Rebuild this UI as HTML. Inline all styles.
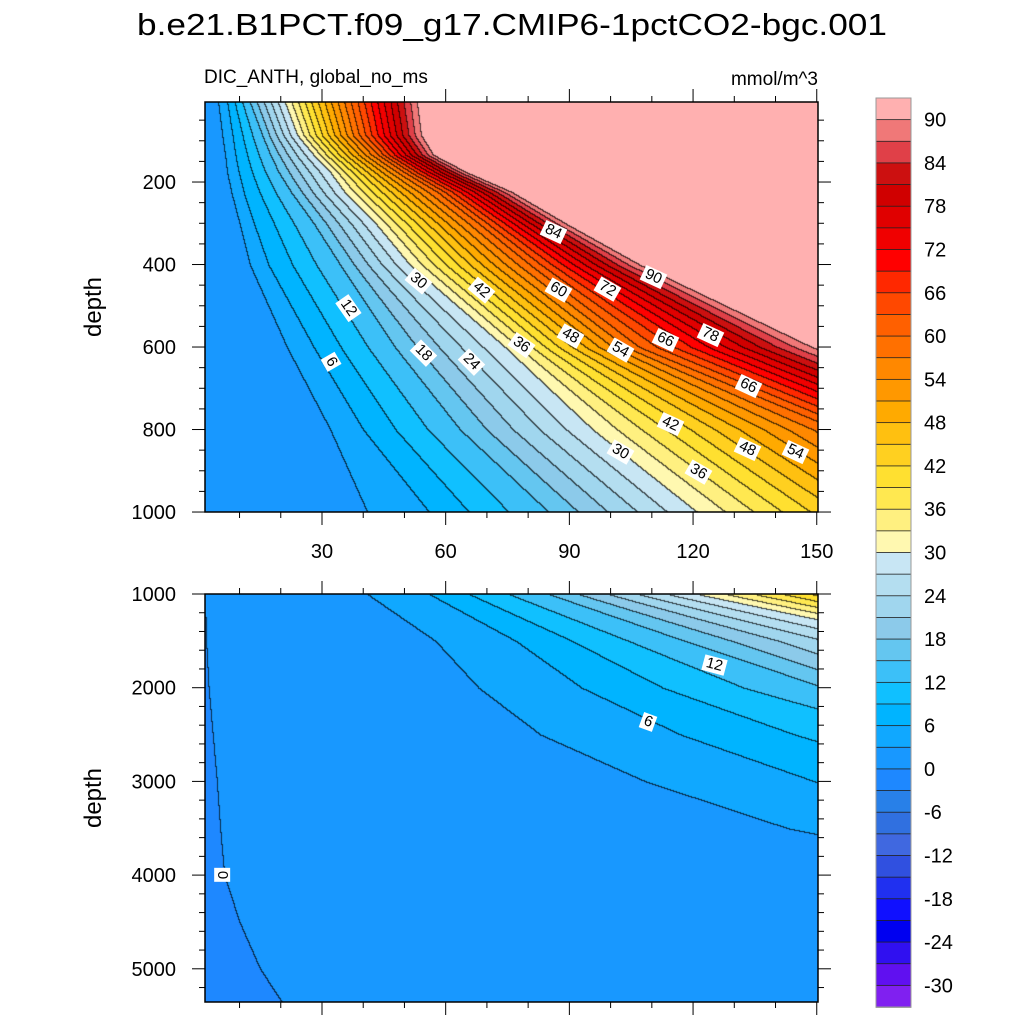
<!DOCTYPE html>
<html><head><meta charset="utf-8">
<style>
html,body{margin:0;padding:0;background:#fff;}
#root{position:relative;width:1024px;height:1024px;overflow:hidden;background:#fff;font-family:"Liberation Sans",sans-serif;}
canvas{position:absolute;}
svg{position:absolute;left:0;top:0;}
.clabel{position:absolute;background:#fff;font-size:15px;line-height:16px;padding:0 3px;color:#000;transform-origin:center center;white-space:nowrap;font-family:"Liberation Sans",sans-serif;}
</style></head>
<body>
<div id="root">
<canvas id="topField" width="613" height="410" style="left:205px;top:102px"></canvas>
<canvas id="botField" width="613" height="408" style="left:205px;top:594px"></canvas>
<svg id="svg" width="1024" height="1024"></svg>
</div>
<script>
// ---- data ----
const depths  = [6,86,134,176,224,300,400,600,800,1000,1500,2000,2500,3000,3500,4000,4500,5000,5355];
const levels  = [0,3,6,15,30,60,90];
const cross0  = [-3,-2.6,-2.3,-2,-1.8,-1.4,-1,0,0.5,1.6,1.9,2.5,3.5,4.5,5.3,6.3,10,15,20.3];
const cross3  = [4.8,5.8,6.5,7,8,10,12.5,21.5,32,41,57.5,68,83,108.5,143,200,250,300,340];
const cross6  = [7,8.3,9,9.8,11,13.5,17,28,40,56,77,93,117,149.5,200,260,310,360,400];
const cross15 = [12.5,15.5,17.5,19.5,22.5,28,34.4,47.7,63.5,85,118,152,200,250,300,350,400,450,490];
const cross30 = [21,24,28,32,35.5,43,51.3,74.4,95.7,121,175,210,260,320,380,450,500,550,600];
const cross60 = [37,39,43.6,50,58,68,80.4,107,155,190,250,300,360,420,480,550,600,650,700];
const cross90 = [53,54,57,65,76,89,107,148.8,200,260,330,400,460,520,600,650,700,750,800];
const crossSets = [cross0,cross3,cross6,cross15,cross30,cross60,cross90];
const barColors = ["#ffb0b0","#f07878","#e04048","#cc1010","#d00000","#e00000","#f00000","#ff0000","#ff2800","#ff4800","#ff6000","#ff7000","#ff8800","#ff9800","#ffaa00","#ffc010","#ffd020","#ffe030","#ffe850","#fff080","#fff8b0","#c8e6f4","#b4def0","#a0d6ee","#8ccaea","#64c6f0","#3cc0f8","#10c0ff","#00b4ff","#10a8ff","#1898ff","#1e88ff","#2880e8","#3070e0","#4068e0","#3050e0","#2030f0","#1010ff","#0000f0","#3010f0","#6010f0","#8020f0"];
const barLabels = [90,84,78,72,66,60,54,48,42,36,30,24,18,12,6,0,-6,-12,-18,-24,-30];
const xTicks = [30,60,90,120,150];
const topYTicks = [200,400,600,800,1000];
const botYTicks = [1000,2000,3000,4000,5000];
const contourLabels = [
 ["84",553,232,25,"t"],["90",653,277,25,"t"],["30",418,281,40,"t"],["42",481,290,40,"t"],["60",558,290,30,"t"],["72",607,289,30,"t"],
 ["12",348,308,55,"t"],["78",710,335,25,"t"],["6",331,362,60,"t"],["18",423,353,45,"t"],["24",471,362,45,"t"],["36",521,345,35,"t"],
 ["48",570,336,30,"t"],["54",620,350,30,"t"],["66",665,340,25,"t"],["66",748,386,25,"t"],["42",670,424,25,"t"],["48",747,449,25,"t"],
 ["54",795,452,25,"t"],["30",620,452,30,"t"],["36",698,472,30,"t"],["12",714,665,15,"b"],["6",648,722,20,"b"],["0",222,875,90,"b"]
];
// ---- axes functions ----
const X0=198.3, XS=4.123;
function xPx(yr){return X0+XS*yr;}
function yTop(d){return 102+(d-6)*0.4125;}
function yBot(d){return 594+(d-1000)*0.0937;}
function yrOf(px){return (px-X0)/XS;}
function colorIndex(v){ if(v>=90) return 0; let j=1+Math.floor((90-v)/3); return Math.min(j,41);}
function crossingsAt(d){
  let i=0; while(i<depths.length-2 && d>depths[i+1]) i++;
  let f=(d-depths[i])/(depths[i+1]-depths[i]); f=Math.max(0,Math.min(1,f));
  return crossSets.map(a=>a[i]+(a[i+1]-a[i])*f);
}
function valueAt(cr,t){
  if(t<=cr[0]) return levels[0]+(t-cr[0])*(levels[1]-levels[0])/(cr[1]-cr[0]);
  const n=cr.length;
  if(t>=cr[n-1]) return 91;
  for(let k=0;k<n-1;k++){ if(t<cr[k+1]) return levels[k]+(t-cr[k])*(levels[k+1]-levels[k])/(cr[k+1]-cr[k]); }
  return 91;
}
function hex(c){return [parseInt(c.substr(1,2),16),parseInt(c.substr(3,2),16),parseInt(c.substr(5,2),16)];}
const rgb=barColors.map(hex);
function drawField(id,depthOf){
  const cv=document.getElementById(id),ctx=cv.getContext('2d');
  const W=cv.width,H=cv.height,img=ctx.createImageData(W,H),band=new Int16Array(W*H);
  for(let y=0;y<H;y++){const cr=crossingsAt(depthOf(y+0.5));
    for(let x=0;x<W;x++){const v=valueAt(cr,yrOf(205+x+0.5)); band[y*W+x]=colorIndex(v);}}
  for(let y=0;y<H;y++)for(let x=0;x<W;x++){
    const b=band[y*W+x]; let c=rgb[b]; let o=(y*W+x)*4;
    let edge=(x>0&&band[y*W+x-1]!==b)||(y>0&&band[(y-1)*W+x]!==b);
    if(edge){img.data[o]=c[0]*0.3;img.data[o+1]=c[1]*0.3;img.data[o+2]=c[2]*0.3;}
    else{img.data[o]=c[0];img.data[o+1]=c[1];img.data[o+2]=c[2];}
    img.data[o+3]=255;}
  ctx.putImageData(img,0,0);
}
drawField('topField',y=>6+y/0.4125);
drawField('botField',y=>1000+y/0.0937);
// ---- svg ----
const NS="http://www.w3.org/2000/svg",svg=document.getElementById('svg');
function el(tag,attrs,parent){const e=document.createElementNS(NS,tag);for(const k in attrs)e.setAttribute(k,attrs[k]);(parent||svg).appendChild(e);return e;}
function txt(s,attrs,name){const e=el('text',attrs);e.textContent=s;


return e;}
txt("b.e21.B1PCT.f09_g17.CMIP6-1pctCO2-bgc.001",{x:512,y:35,'text-anchor':'middle','font-size':31,textLength:750,lengthAdjust:'spacingAndGlyphs'},'chart-title');
txt("DIC_ANTH, global_no_ms",{x:204,y:83,'font-size':19},'subtitle-left');
txt("mmol/m^3",{x:818,y:85,'text-anchor':'end','font-size':19},'units-label');
function panel(top,bottom,yfun,yt,minorStep,dmin,dmax,name,showX){
  const g=el('g',{});
  
  
  el('rect',{x:205,y:top,width:613,height:bottom-top,fill:'none',stroke:'#000','stroke-width':1.5},g);
  for(let yr=10;yr<=150;yr+=10){const x=xPx(yr),L=(yr%30===0)?13:6;
    el('line',{x1:x,y1:top,x2:x,y2:top-L,stroke:'#000','stroke-width':1},g);
    el('line',{x1:x,y1:bottom,x2:x,y2:bottom+L,stroke:'#000','stroke-width':1},g);}
  for(let d=Math.ceil(dmin/minorStep)*minorStep;d<=dmax;d+=minorStep){const y=yfun(d);if(y<top-0.5||y>bottom+0.5)continue;
    const L=yt.includes(d)?13:6;
    el('line',{x1:205,y1:y,x2:205-L,y2:y,stroke:'#000','stroke-width':1},g);
    el('line',{x1:818,y1:y,x2:818+L,y2:y,stroke:'#000','stroke-width':1},g);}
  yt.forEach(d=>{txt(String(d),{x:176,y:yfun(d)+7,'text-anchor':'end','font-size':20},name+'-y-tick-label');});
  if(showX) xTicks.forEach(t=>{txt(String(t),{x:xPx(t),y:558,'text-anchor':'middle','font-size':20},name+'-x-tick-label');});
  txt("depth",{x:0,y:0,'font-size':24,'text-anchor':'middle',transform:`translate(101,${(top+bottom)/2}) rotate(-90)`},name+'-y-axis-title');
}
panel(102,512,yTop,topYTicks,50,0,1000,'upper-panel',true);
panel(594,1002,yBot,botYTicks,200,1000,5355,'lower-panel',false);
// colorbar
const cbTop=98,cbH=909/42;
barColors.forEach((c,i)=>{const r=el('rect',{x:876,y:cbTop+i*cbH,width:35,height:cbH+0.3,fill:c,stroke:'#222','stroke-width':0.8});

});
el('rect',{x:876,y:cbTop,width:35,height:909,fill:'none',stroke:'#999','stroke-width':1});
barLabels.forEach((v,i)=>{const y=cbTop+cbH*(1+2*i);txt(String(v),{x:924,y:y+7,'font-size':20},'colorbar-label');});
// contour labels
const root=document.getElementById('root');
contourLabels.forEach(l=>{const d=document.createElement('div');d.className='clabel';d.textContent=l[0];


root.appendChild(d);const w=d.offsetWidth,h=d.offsetHeight;d.style.left=(l[1]-w/2)+'px';d.style.top=(l[2]-h/2)+'px';d.style.transform=`rotate(${l[3]}deg)`;});
</script>
</body></html>
